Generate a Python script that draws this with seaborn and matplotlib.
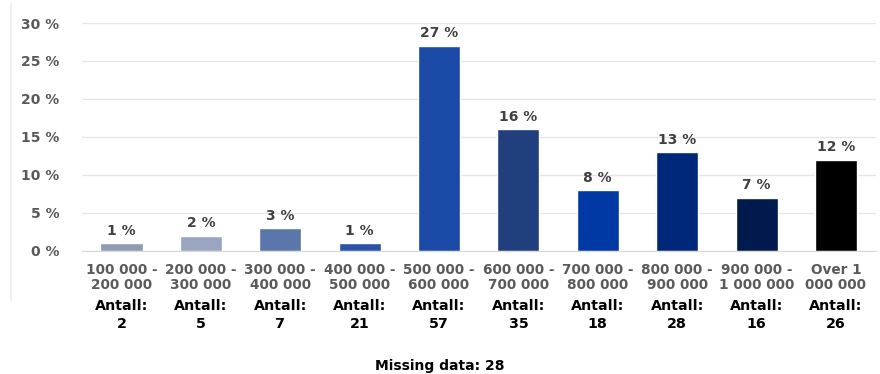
import matplotlib
matplotlib.use('Agg')
import matplotlib.pyplot as plt
import matplotlib.transforms as mtransforms
import seaborn as sns
import pandas as pd

# data
ranges = ['100 000 -\n200 000', '200 000 -\n300 000', '300 000 -\n400 000',
          '400 000 -\n500 000', '500 000 -\n600 000', '600 000 -\n700 000',
          '700 000 -\n800 000', '800 000 -\n900 000', '900 000 -\n1 000 000',
          'Over 1\n000 000']
shares = [1, 2, 3, 1, 27, 16, 8, 13, 7, 12]
counts = [2, 5, 7, 21, 57, 35, 18, 28, 16, 26]
missing = 28
colors = ['#8f9ab3', '#9aa6bf', '#5a76ab', '#2c52a8', '#1a4aa6',
          '#213f7c', '#0039a3', '#00287a', '#001a4d', '#000000']

df = pd.DataFrame({'range': ranges, 'share': shares})

sns.set_style('white')
plt.rcParams['font.family'] = ['DejaVu Sans']

fig = plt.figure(figsize=(8.8, 3.74), dpi=100)
ax = fig.add_axes([0.093, 0.329, 0.902, 0.6095])

sns.barplot(data=df, x='range', y='share', hue='range', palette=colors,
            legend=False, width=0.53, saturation=1, ax=ax)

ax.set_ylim(0, 30)
ax.set_yticks(range(0, 31, 5))
ax.set_yticklabels([f'{v} %' for v in range(0, 31, 5)])
ax.yaxis.grid(True, color='#e6e6e6', linewidth=1)
ax.set_axisbelow(True)
for s in ['top', 'right', 'left']:
    ax.spines[s].set_visible(False)
ax.spines['bottom'].set_color('#d9d9d9')
ax.tick_params(axis='y', length=0, pad=16, labelsize=10, labelcolor='#595959')
ax.tick_params(axis='x', length=0, pad=9, labelsize=9.8, labelcolor='#5a5a5a')
for lab in ax.get_yticklabels():
    lab.set_fontweight('bold')
for lab in ax.get_xticklabels():
    lab.set_fontweight('semibold')
    lab.set_linespacing(1.05)
ax.set_xlabel('')
ax.set_ylabel('')

# value labels above bars
for i, v in enumerate(shares):
    ax.annotate(f'{v} %', (i, v), xytext=(0, 4), textcoords='offset points',
                ha='center', va='bottom', fontsize=10, fontweight='bold',
                color='#404040')

# counts under the range labels
trans = mtransforms.blended_transform_factory(ax.transData, fig.transFigure)
for i, n in enumerate(counts):
    ax.text(i, 1 - 306 / 374, 'Antall:', transform=trans, ha='center',
            va='center', fontsize=10.3, fontweight='bold', family='DejaVu Sans',
            color='black')
    ax.text(i, 1 - 324 / 374, str(n), transform=trans, ha='center',
            va='center', fontsize=10.3, fontweight='bold', family='DejaVu Sans',
            color='black')

fig.text(0.5, 1 - 366 / 374, f'Missing data: {missing}', ha='center',
         va='center', fontsize=10, fontweight='bold', family='DejaVu Sans',
         color='black')

# faint frame line on the left
fig.add_artist(plt.Line2D([0.012, 0.012], [0.198, 0.99], color='#eeeeee',
                          linewidth=1.5, transform=fig.transFigure))

fig.savefig('out.png', dpi=100)
